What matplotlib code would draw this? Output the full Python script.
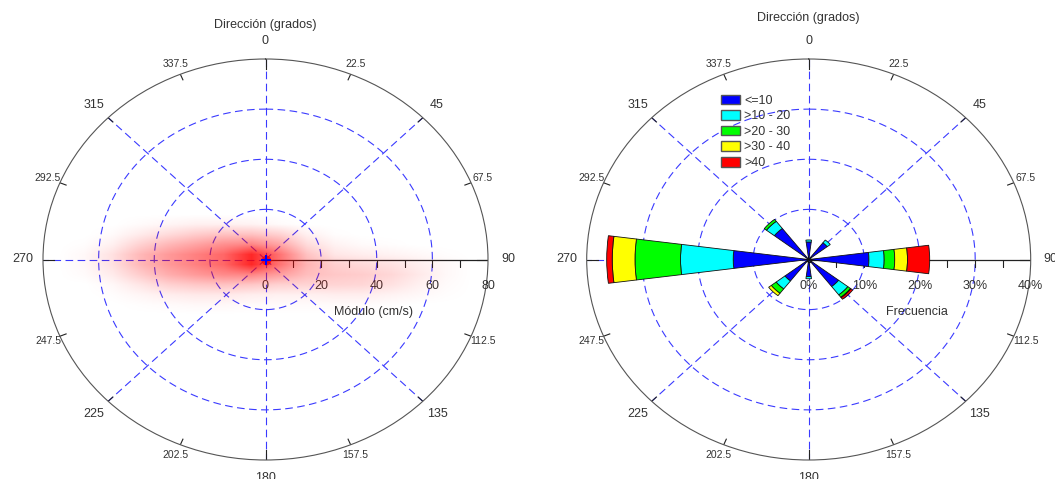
import numpy as np
import matplotlib
matplotlib.use("Agg")
import matplotlib.pyplot as plt
from matplotlib.patches import Patch

plt.rcParams['font.family'] = ['Liberation Sans', 'DejaVu Sans']
plt.rcParams['lines.scale_dashes'] = False

# ---- data ----
major_angles = [0, 45, 90, 135, 180, 225, 270, 315]
minor_angles = [22.5, 67.5, 112.5, 157.5, 202.5, 247.5, 292.5, 337.5]

speed_ticks = [0, 20, 40, 60, 80]          # cm/s
freq_ticks = [0, 10, 20, 30, 40]           # %

# current vectors, density of points in the (u, v) plane (cm/s)
u_centres = [-75, -65, -55, -45, -35, -25, -15, -5, 5, 15, 25, 35, 45, 55, 65, 75, 85]
v_centres = [-22, -18, -14, -10, -6, -2, 2, 6, 10, 14, 18]
density = [
    [0, 0, 0, 0, 0, 0, 0, 0, 0, 0, 0, 0, 0, 0, 0, 0, 0],
    [0, 0, 0, .01, .02, .03, .03, .02, .02, .02, .02, .02, .01, 0, 0, 0, 0],
    [0, 0, .01, .04, .07, .09, .09, .07, .06, .06, .07, .07, .05, .03, .01, 0, 0],
    [0, 0, .03, .10, .18, .22, .24, .22, .18, .17, .17, .16, .12, .06, .02, 0, 0],
    [0, .02, .08, .20, .32, .40, .46, .48, .38, .26, .22, .20, .16, .09, .03, 0, 0],
    [0, .03, .12, .28, .40, .50, .60, .85, .56, .30, .19, .15, .12, .07, .03, 0, 0],
    [0, .03, .12, .28, .40, .50, .60, .85, .56, .24, .10, .07, .05, .03, .01, 0, 0],
    [0, .01, .06, .18, .28, .36, .44, .48, .36, .14, .05, .02, .01, 0, 0, 0, 0],
    [0, 0, .02, .08, .14, .20, .24, .24, .18, .06, .01, 0, 0, 0, 0, 0, 0],
    [0, 0, 0, .02, .04, .06, .06, .05, .02, 0, 0, 0, 0, 0, 0, 0, 0],
    [0, 0, 0, 0, 0, 0, 0, 0, 0, 0, 0, 0, 0, 0, 0, 0, 0],
]

# wind-rose style frequency by direction and speed class (%)
rose_dirs = [0, 45, 90, 135, 180, 225, 270, 315]
class_labels = ['<=10', '>10 - 20', '>20 - 30', '>30 - 40', '>40']
class_colors = ['#0000ff', '#00ffff', '#00ff00', '#ffff00', '#ff0000']
freq_le10 = [3.5, 4.2, 10.85, 6.8, 3.4, 5.4, 13.6, 7.8]
freq_10_20 = [0.4, 0.7, 2.75, 2.1, 0.45, 2.0, 9.5, 1.8]
freq_20_30 = [0, 0, 1.9, 0.6, 0, 1.1, 8.2, 0.5]
freq_30_40 = [0, 0, 2.3, 0.1, 0, 0.6, 4.1, 0]
freq_gt40 = [0, 0, 4.0, 0.4, 0, 0, 1.0, 0]

# ---- style ----
TEXT = '#333333'
GRID = '#3a3aff'
DASH = (0, (5.5, 3.2))
W, H = 1055, 479

fig = plt.figure(figsize=(W / 100, H / 100), dpi=100)


def rect_for(cx, cy, hw, hh):
    return [(cx - hw) / W, (H - cy - hh) / H, 2 * hw / W, 2 * hh / H]


def polar_frame(rect, rmax, rings, tick_step, radial_ticks, suffix, axis_name):
    ax = fig.add_axes(rect, projection='polar')
    ax.set_theta_zero_location('N')
    ax.set_theta_direction(-1)
    ax.set_ylim(0, rmax)
    ax.set_aspect('auto')
    ax.set_xticks([])
    ax.set_yticks([])
    ax.grid(False)
    ax.spines['polar'].set_color('#555555')
    ax.spines['polar'].set_linewidth(0.8)

    th = np.linspace(0, 2 * np.pi, 721)
    for r in rings:
        ax.plot(th, np.full_like(th, r), color=GRID, lw=0.8, ls=DASH, zorder=1)
    for a in [0, 45, 135, 180, 225, 270, 315]:
        ax.plot([np.deg2rad(a)] * 2, [0, rmax], color=GRID, lw=0.8, ls=DASH, zorder=1)
    ax.plot([np.pi / 2] * 2, [0, rmax], color='#222222', lw=0.9, zorder=2)

    # small ticks along the radial axis
    for r in np.arange(tick_step, rmax, tick_step):
        ax.plot(np.pi / 2, r, marker=3, ms=5, mew=0.8, color='#222222', zorder=2)

    # direction ticks on the outer circle
    for a in major_angles:
        ln = 0.05 if a % 90 == 0 else 0.03
        ax.plot([np.deg2rad(a)] * 2, [rmax, rmax * (1 - ln)], color='#222222', lw=0.8, zorder=2)
    for a in minor_angles:
        ax.plot([np.deg2rad(a)] * 2, [rmax, rmax * 0.97], color='#222222', lw=0.8, zorder=2)

    # direction labels
    for a in major_angles:
        ax.text(np.deg2rad(a), rmax * 1.09, '%g' % a, ha='center', va='center',
                fontsize=9, color=TEXT, clip_on=False)
    for a in minor_angles:
        ax.text(np.deg2rad(a), rmax * 1.058, '%g' % a, ha='center', va='center',
                fontsize=7.5, color=TEXT, clip_on=False)

    # radial labels
    for r in radial_ticks:
        ax.annotate('%g%s' % (r, suffix), xy=(np.pi / 2, r), xytext=(0, -19),
                    textcoords='offset points', ha='center', va='center',
                    fontsize=9, color=TEXT, annotation_clip=False)
    ax.annotate(axis_name, xy=(np.pi / 2, rmax / 2), xytext=(-2, -37.5),
                textcoords='offset points', ha='center', va='center',
                fontsize=9, color=TEXT, annotation_clip=False)
    return ax


# ---- left: current vectors ----
rect_l = rect_for(265.5, 259.5, 222.5, 200.5)
ax_l = polar_frame(rect_l, 80, [20, 40, 60], 10, speed_ticks, '', 'Módulo (cm/s)')
fig.text(265.5 / W, 1 - 25 / H, 'Dirección (grados)', ha='center', va='center',
         fontsize=9, color=TEXT)

hz = fig.add_axes(rect_l)
hz.patch.set_alpha(0)
rgba = np.zeros((len(v_centres), len(u_centres), 4))
rgba[..., 0] = 1.0
rgba[..., 3] = np.array(density)
hz.imshow(rgba, extent=(u_centres[0] - 5, u_centres[-1] + 5, v_centres[0] - 2, v_centres[-1] + 2),
          origin='lower', interpolation='bilinear', aspect='auto')
hz.plot(0, 0, marker='o', color='#ff0000', ms=7, mew=0, alpha=0.8)
hz.plot(0, 0, marker='+', color='#0000ff', ms=7, mew=1.5)
hz.set_xlim(-80, 80)
hz.set_ylim(-80, 80)
hz.axis('off')

# ---- right: frequency rose ----
rect_r = rect_for(808.7, 259.5, 222, 200.5)
ax_r = polar_frame(rect_r, 40, [10, 20, 30], 5, freq_ticks, '%', 'Frecuencia')
fig.text(808.7 / W, 1 - 18 / H, 'Dirección (grados)', ha='center', va='center',
         fontsize=9, color=TEXT)

theta = np.deg2rad(rose_dirs)
bottom = np.zeros(len(rose_dirs))
for vals, col in zip([freq_le10, freq_10_20, freq_20_30, freq_30_40, freq_gt40], class_colors):
    vals = np.array(vals)
    keep = vals > 0
    ax_r.bar(theta[keep], vals[keep], width=np.deg2rad(15), bottom=bottom[keep],
             color=col, edgecolor='#111111', linewidth=0.6, zorder=3)
    bottom += vals
ax_r.plot(0, 0, marker='o', mfc='none', mec='#111111', ms=3, mew=0.8, zorder=4)

handles = [Patch(facecolor=c, edgecolor='#555555', linewidth=1) for c in class_colors]
fig.legend(handles, class_labels, loc='upper left', bbox_to_anchor=(721 / W, 1 - 94.5 / H),
           frameon=False, fontsize=9, handlelength=1.5, handleheight=0.8,
           handletextpad=0.35, labelspacing=0.28, borderpad=0, borderaxespad=0,
           labelcolor=TEXT)

fig.savefig('out.png', dpi=100)
